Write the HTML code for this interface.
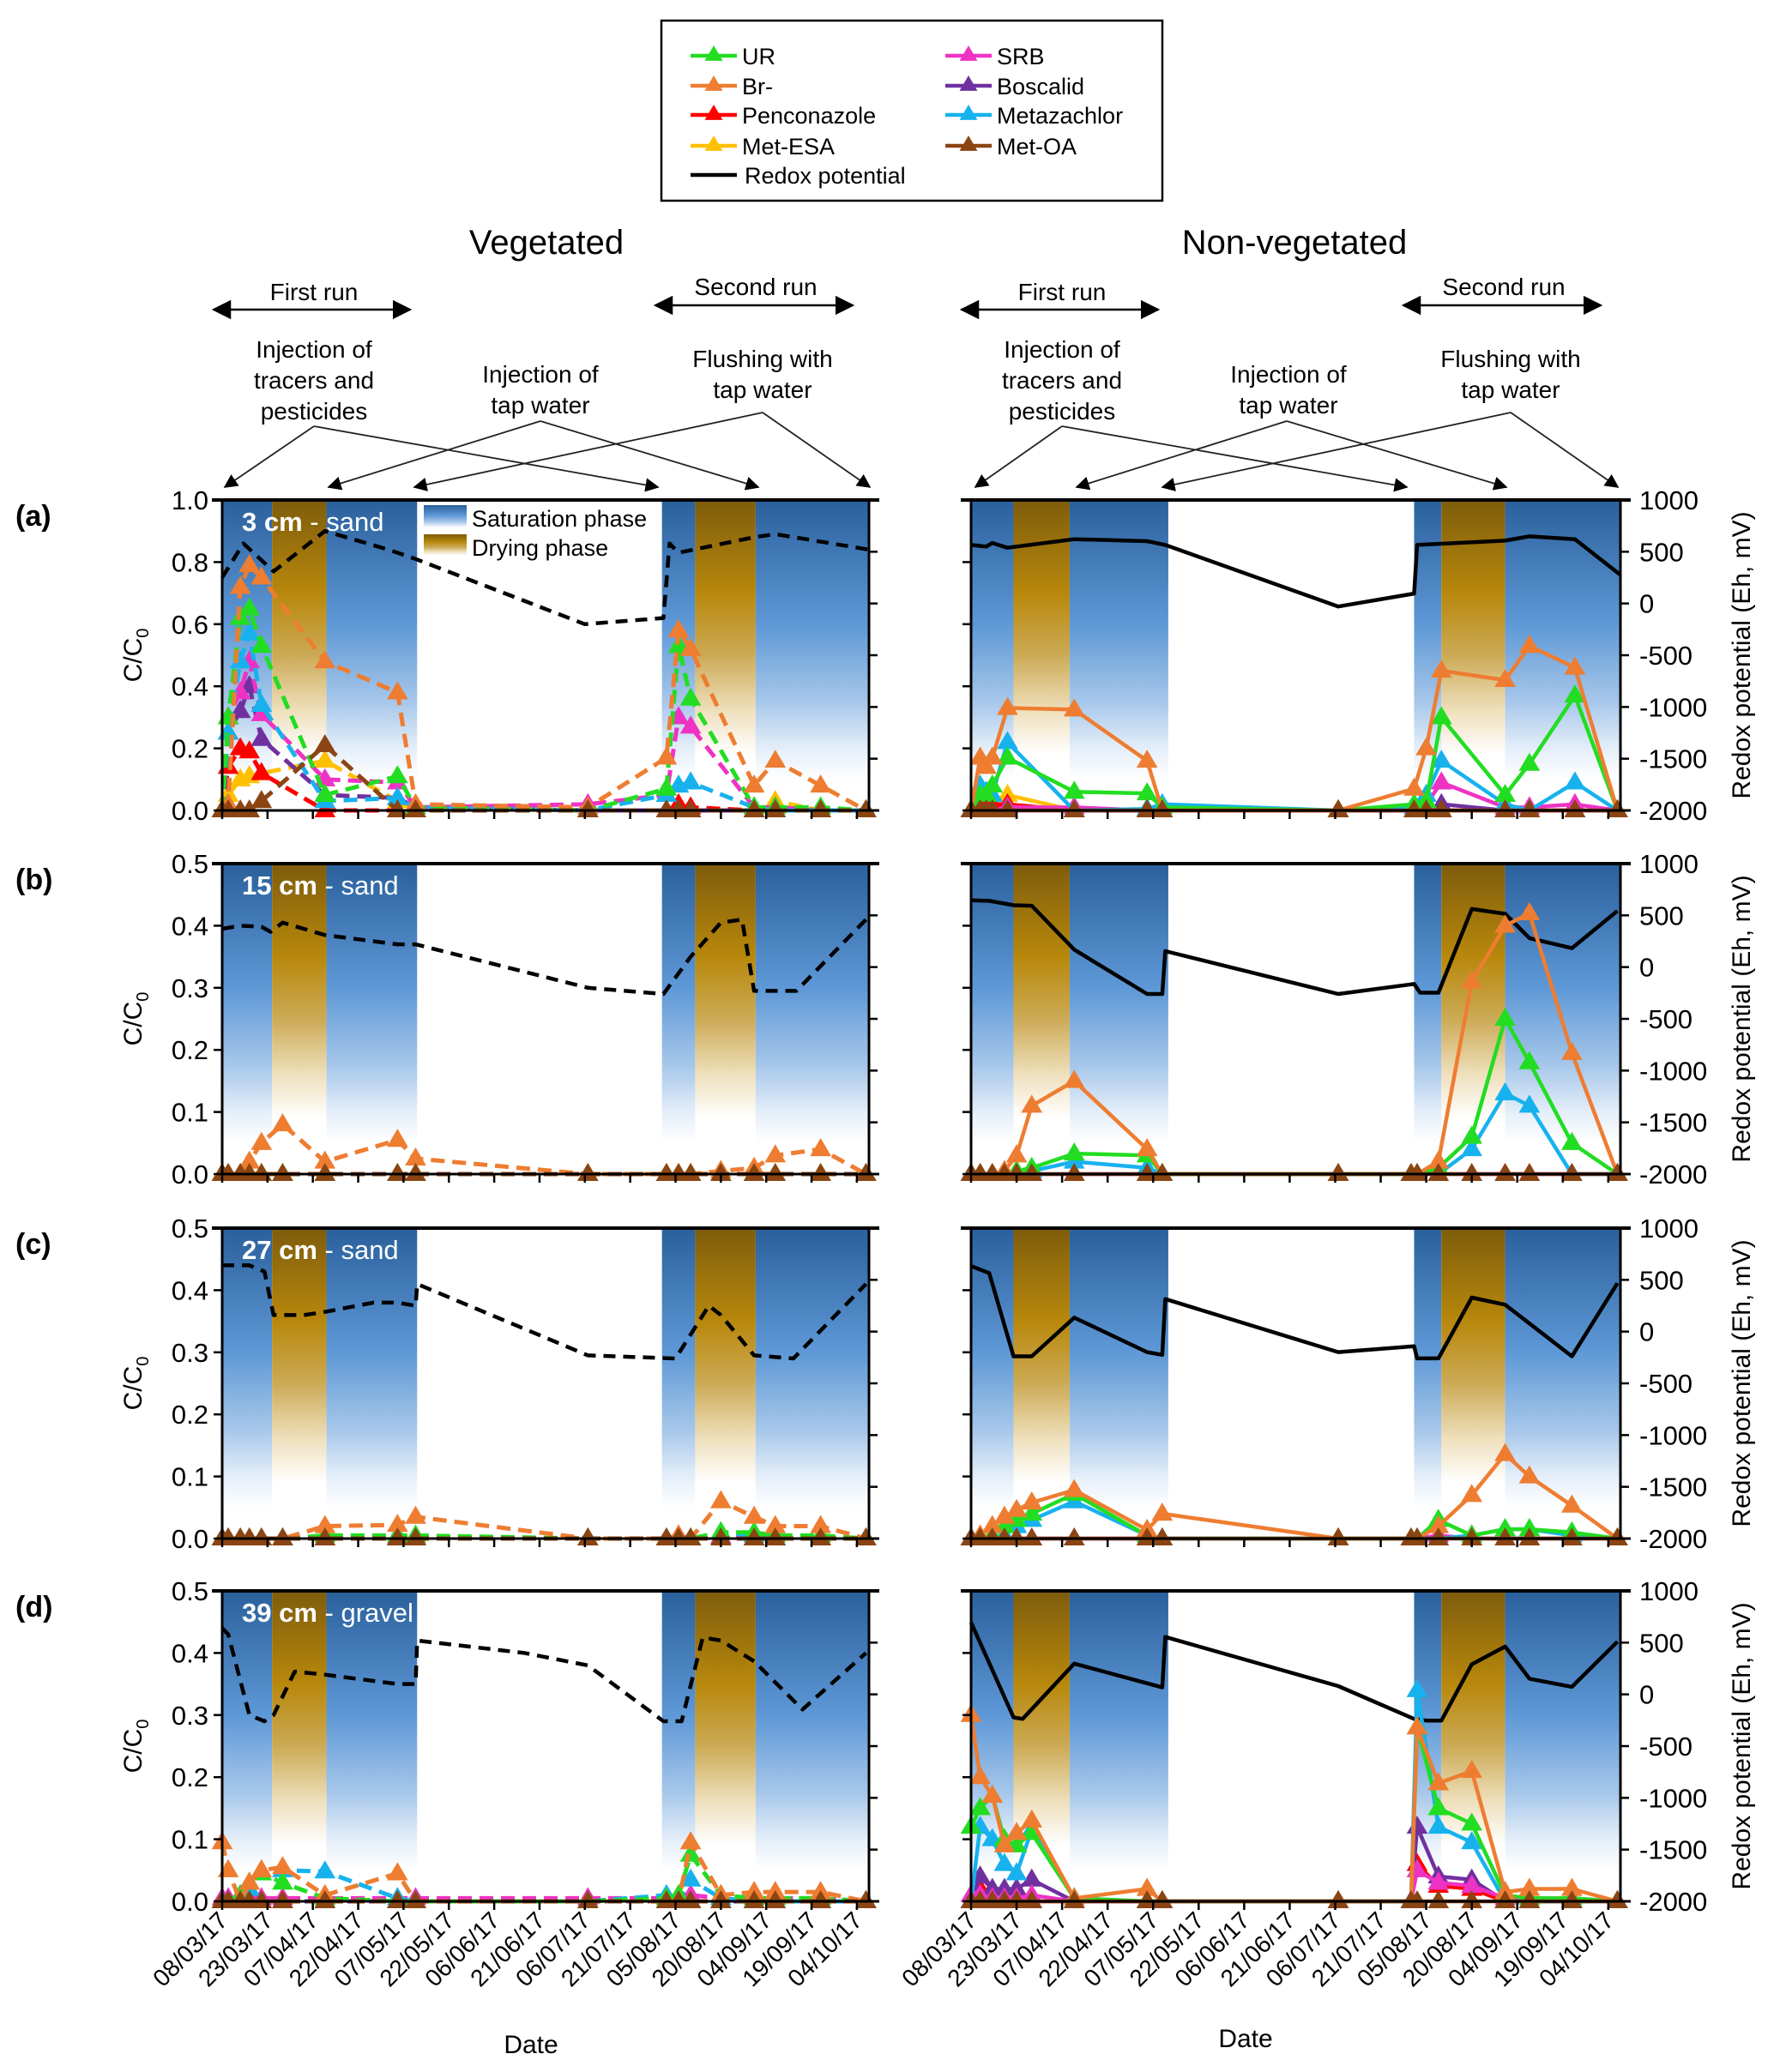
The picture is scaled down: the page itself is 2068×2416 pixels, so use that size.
<!DOCTYPE html>
<html><head><meta charset="utf-8"><style>
html,body{margin:0;padding:0;background:#fff;}
svg{display:block;font-family:"Liberation Sans",Arial,sans-serif;}
</style></head><body>
<svg id="chart" xmlns="http://www.w3.org/2000/svg" width="2068" height="2416" viewBox="0 0 2068 2416">
<defs>
<linearGradient id="gSat" x1="0" y1="0" x2="0" y2="1">
<stop offset="0" stop-color="#2a609c"/><stop offset="0.4" stop-color="#5e98d6"/><stop offset="0.65" stop-color="#a6c7ea"/><stop offset="0.8" stop-color="#e4eef9"/><stop offset="0.9" stop-color="#ffffff"/></linearGradient>
<linearGradient id="gDry" x1="0" y1="0" x2="0" y2="1">
<stop offset="0" stop-color="#7e5c0c"/><stop offset="0.3" stop-color="#b8880c"/><stop offset="0.5" stop-color="#ccaa55"/><stop offset="0.68" stop-color="#efe0bd"/><stop offset="0.82" stop-color="#ffffff"/></linearGradient>
<marker id="ah" viewBox="0 0 10 10" refX="9" refY="5" markerWidth="9" markerHeight="9" orient="auto-start-reverse"><path d="M0,0 L10,5 L0,10 z" fill="#000"/></marker>
</defs>
<g id="root"></g>
</svg>
<script>
// ---------- data ----------
const dateTicks = ["08/03/17","23/03/17","07/04/17","22/04/17","07/05/17","22/05/17","06/06/17","21/06/17","06/07/17","21/07/17","05/08/17","20/08/17","04/09/17","19/09/17","04/10/17"];
const seriesNames = ["UR","Br-","Penconazole","Met-ESA","SRB","Boscalid","Metazachlor","Met-OA"];
const seriesColors = ["#22dd22","#ee7d31","#ff0000","#ffc000","#ee33c4","#7030a0","#17b2ee","#8b4513"];
const drawOrder = ["Met-ESA","Penconazole","Boscalid","SRB","Metazachlor","UR","Br-","Met-OA"];
const daysL = [0,2,6,9,13,20,34,58,64,121,147,151,155,165,176,183,198,213];
const daysRa = [0,3,5,7,12,20,34,58,63,121,146,150,155,165,176,184,199,213];
const daysR = [0,3,7,11,15,20,34,58,63,121,145,147,154,165,176,184,198,213];
const bandsL = [["sat",0,16.5],["dry",16.5,34.5],["sat",34.5,64.5],["sat",145.5,156.5],["dry",156.5,176.5],["sat",176.5,214]];
const bandsR = [["sat",0,14],["dry",14,32.5],["sat",32.5,65],["sat",146,155],["dry",155,176],["sat",176,214]];
// panel a - vegetated
const aL_UR   = [0,0.30,0.62,0.65,0.53,null,0.05,0.11,0.01,0,0.07,0.53,0.36,null,0.01,0.01,0.01,0];
const aL_Br   = [0,0.02,0.72,0.79,0.75,null,0.48,0.38,0.02,0.01,0.17,0.58,0.52,null,0.08,0.16,0.08,0];
const aL_Pen  = [0,0.14,0.20,0.19,0.12,null,0,0,0,0,0,0.02,0.01,null,0,0,0,0];
const aL_ESA  = [0,0.05,0.10,0.11,0.12,null,0.16,0.03,0.01,0,0,0,0,null,0,0.03,0,0];
const aL_SRB  = [0,0.30,0.38,0.48,0.31,null,0.10,0.09,0.01,0.02,0.05,0.30,0.27,null,0.01,0.01,0,0];
const aL_Bos  = [0,0.25,0.32,0.40,0.23,null,0.05,0.04,0.01,0,0,0,0,null,0,0.01,0,0];
const aL_Meta = [0,0.25,0.48,0.57,0.34,null,0.03,0.04,0.01,0,0.05,0.08,0.09,null,0.01,0,0,0];
const aL_OA   = [0,0,0,0,0.03,null,0.21,0,0,0,0,0,0,null,0,0,0,0];
const aL_redoxDays = [0,7,17,34,55,64,120,146,148,151,176,183,214];
const aL_redox = [250,580,310,700,520,430,-200,-140,580,490,640,670,520];
const aR_UR   = [0,0.05,0.05,0.08,0.17,null,0.06,0.055,0.01,0,0.02,0.03,0.30,null,0.05,0.15,0.37,0];
const aR_Br   = [0,0.17,0.14,0.17,0.33,null,0.325,0.16,0,0,0.07,0.20,0.45,null,0.42,0.53,0.46,0];
const aR_Pen  = [0,0.02,0.03,0.02,0.02,null,0,0,0,0,0,0,0,null,0,0,0,0];
const aR_ESA  = [0,0.02,0.02,0.03,0.05,null,0,0,0,0,0,0,0,null,0,0,0,0];
const aR_SRB  = [0,0,0,0,0.01,null,0.01,0,0,0,0,0.02,0.09,null,0.01,0.01,0.02,0];
const aR_Bos  = [0,0,0,0,0,null,0,0,0,0,0,0,0.02,null,0,0,0,0];
const aR_Meta = [0,0.08,0.06,0.05,0.22,null,0,0.005,0.02,0,0.01,0.05,0.16,null,0.02,0,0.09,0];
const aR_OA   = [0,0,0,0,0,null,0,0,0,0,0,0,0,null,0,0,0,0];
const aR_redoxDays = [0,5,7,12,34,58,64,121,146,147,176,184,199,214];
const aR_redox = [566,550,585,538,621,602,566,-29,96,566,607,649,621,276];
// panel b
const bL_Br   = [0,0,0,0.02,0.05,0.08,0.02,0.055,0.025,0,0,0,0,0.005,0.01,0.03,0.04,0];
const bL_zero = [0,0,0,0,0,0,0,0,0,0,0,0,0,0,0,0,0,0];
const bL_redoxDays = [0,6,13,16,20,34,58,64,121,146,155,165,172,176,190,213];
const bL_redox = [370,400,390,340,430,310,220,220,-200,-260,100,430,460,-230,-230,460];
const bR_UR   = [0,0,0,0,0.005,0.01,0.033,0.03,0,0,0,0,0.01,0.06,0.25,0.18,0.05,0];
const bR_Br   = [0,0,0,0.005,0.03,0.11,0.15,0.04,0,0,0,0,0.02,0.31,0.40,0.42,0.195,0];
const bR_Meta = [0,0,0,0,0,0.005,0.02,0.01,0,0,0,0,0,0.04,0.13,0.11,0,0];
const bR_zero = [0,0,0,0,0,0,0,0,0,0,0,0,0,0,0,0,0,0];
const bR_redoxDays = [0,6,14,20,34,58,63,64,121,146,148,154,165,176,184,198,213];
const bR_redox = [645,640,598,593,169,-260,-260,155,-260,-163,-247,-247,562,515,280,183,543];
// panel c
const cL_UR   = [0,0,0,0,0,0,0.005,0.005,0.005,0,0,0,0,0.01,0.01,0.005,0.005,0];
const cL_Br   = [0,0,0,0,0,0,0.02,0.022,0.035,0,0,0.005,0,0.06,0.035,0.02,0.02,0];
const cL_SRB  = [0,0,0,0,0,0,0,0.002,0.002,0,0,0.005,0,0.003,0,0,0,0];
const cL_Meta = [0,0,0,0,0,0,0,0,0,0,0,0,0,0.01,0.005,0,0,0];
const cL_redoxDays = [0,9,14,17,27,34,50,58,64,64.5,121,150,161,165,176,189,213];
const cL_redox = [640,640,580,160,160,190,280,280,250,460,-230,-260,250,160,-230,-260,460];
const cR_UR   = [0,0,0.005,0.02,0.03,0.04,0.072,0.005,0,0,0,0,0.03,0.005,0.015,0.015,0.01,0];
const cR_Br   = [0,0.005,0.02,0.035,0.046,0.058,0.078,0.014,0.04,0,0,0,0.02,0.07,0.136,0.10,0.053,0];
const cR_SRB  = [0,0,0,0,0,0,0,0,0,0,0,0,0.005,0,0,0,0,0];
const cR_Meta = [0,0,0,0.005,0.02,0.03,0.06,0.005,0,0,0,0,0,0.005,0.015,0.015,0.005,0];
const cR_redoxDays = [0,6,14,20,34,58,63,64,121,146,147,154,165,176,198,213];
const cR_redox = [634,565,-239,-239,135,-198,-225,315,-198,-142,-259,-259,329,260,-239,468];
// panel d
const dL_UR   = [0,0,0.01,0.03,0.045,0.03,0.005,0,0,0,0.005,0.01,0.075,0.01,0.005,0.005,0.005,0];
const dL_Br   = [0.095,0.05,0,0.03,0.05,0.055,0.01,0.045,0,0,0,0,0.095,0.01,0.015,0.015,0.015,0];
const dL_SRB  = [0.005,0.005,0.005,0.005,0.005,0.005,0.005,0.005,0.005,0.005,0.005,0.005,0.01,0.005,0.005,0.005,0.005,0];
const dL_Bos  = [0,0,0,0.01,0,0,0,0,0,0,0,0,0,0,0,0,0,0];
const dL_Meta = [0,0,0.01,0.02,0.045,0.05,0.048,0.005,0,0,0.01,0,0.035,0.005,0,0,0,0];
const dL_redoxDays = [0,2,9,14,17,24,34,58,64,64.5,100,121,146,152,159,165,176,192,213];
const dL_redox = [640,580,-200,-260,-200,220,190,100,100,520,400,280,-260,-260,550,520,320,-146,400];
const dR_UR   = [0.12,0.15,0.17,0.10,0.09,0.11,0.005,0,0,0,0,0.28,0.15,0.125,0.01,0.005,0.005,0];
const dR_Br   = [0.30,0.20,0.17,0.09,0.11,0.13,0.005,0.02,0,0,0,0.28,0.19,0.21,0.015,0.02,0.02,0];
const dR_Pen  = [0,0.02,0.005,0,0,0,0,0,0,0,0,0.06,0.025,0.02,0,0,0,0];
const dR_SRB  = [0.01,0.01,0.005,0.005,0.005,0.01,0,0,0,0,0,0.05,0.03,0.025,0.005,0.005,0.005,0];
const dR_Bos  = [0,0.04,0.02,0.02,0.02,0.035,0,0,0,0,0,0.12,0.04,0.035,0,0,0,0];
const dR_Meta = [0,0.12,0.10,0.06,0.045,0.115,0.005,0,0,0,0,0.34,0.12,0.095,0,0,0,0];
const dR_redoxDays = [0,14,17,34,63,64,121,146,150,155,165,176,184,198,213];
const dR_redox = [695,-222,-237,297,67,555,80,-237,-253,-253,291,462,151,73,509];

// ---------- layout ----------
const NS = "http://www.w3.org/2000/svg";
const root = document.getElementById("root");
function el(tag, attrs, parent, txt) {
  const e = document.createElementNS(NS, tag);
  for (const k in attrs) e.setAttribute(k, attrs[k]);
  if (txt !== undefined) e.textContent = txt;
  (parent || root).appendChild(e);
  return e;
}
const XL = [259, 1013], XR = [1132, 1889];
const TOPS = [583, 1007, 1432, 1855];
const H = 362;
const DMAX = 214;

function xScale(side) { const r = side === "L" ? XL : XR; return d => r[0] + d / DMAX * (r[1] - r[0]); }
function yScale(top, ymax) { return v => top + H - v / ymax * H; }
function redoxScale(top) { return mv => top + H - (mv + 2000) / 3000 * H; }
function tri(g, x, y, color, r) {
  return el("path", { d: `M${x},${y - r} L${x + r * 0.95},${y + r * 0.62} L${x - r * 0.95},${y + r * 0.62} Z`, fill: color }, g);
}

const panels = [
  { id: "a", top: TOPS[0], ymax: 1.0, step: 0.2, label: "3 cm", mat: " - sand",
    L: { days: daysL, s: { "UR": aL_UR, "Br-": aL_Br, "Penconazole": aL_Pen, "Met-ESA": aL_ESA, "SRB": aL_SRB, "Boscalid": aL_Bos, "Metazachlor": aL_Meta, "Met-OA": aL_OA }, rd: aL_redoxDays, rv: aL_redox },
    R: { days: daysRa, s: { "UR": aR_UR, "Br-": aR_Br, "Penconazole": aR_Pen, "Met-ESA": aR_ESA, "SRB": aR_SRB, "Boscalid": aR_Bos, "Metazachlor": aR_Meta, "Met-OA": aR_OA }, rd: aR_redoxDays, rv: aR_redox } },
  { id: "b", top: TOPS[1], ymax: 0.5, step: 0.1, label: "15 cm", mat: " - sand",
    L: { days: daysL, s: { "UR": bL_zero, "Br-": bL_Br, "Met-OA": bL_zero }, rd: bL_redoxDays, rv: bL_redox },
    R: { days: daysR, s: { "UR": bR_UR, "Br-": bR_Br, "Metazachlor": bR_Meta, "SRB": bR_zero, "Met-OA": bR_zero }, rd: bR_redoxDays, rv: bR_redox } },
  { id: "c", top: TOPS[2], ymax: 0.5, step: 0.1, label: "27 cm", mat: " - sand",
    L: { days: daysL, s: { "UR": cL_UR, "Br-": cL_Br, "SRB": cL_SRB, "Metazachlor": cL_Meta, "Met-OA": bL_zero }, rd: cL_redoxDays, rv: cL_redox },
    R: { days: daysR, s: { "UR": cR_UR, "Br-": cR_Br, "SRB": cR_SRB, "Metazachlor": cR_Meta, "Met-OA": bR_zero }, rd: cR_redoxDays, rv: cR_redox } },
  { id: "d", top: TOPS[3], ymax: 0.5, step: 0.1, label: "39 cm", mat: " - gravel",
    L: { days: daysL, s: { "UR": dL_UR, "Br-": dL_Br, "SRB": dL_SRB, "Boscalid": dL_Bos, "Metazachlor": dL_Meta, "Met-OA": bL_zero }, rd: dL_redoxDays, rv: dL_redox },
    R: { days: daysR, s: { "UR": dR_UR, "Br-": dR_Br, "Penconazole": dR_Pen, "SRB": dR_SRB, "Boscalid": dR_Bos, "Metazachlor": dR_Meta, "Met-OA": bR_zero }, rd: dR_redoxDays, rv: dR_redox } }
];

panels.forEach((p, pi) => {
  ["L", "R"].forEach(side => {
    const g = el("g", {});
    
    
    const xs = xScale(side), ys = yScale(p.top, p.ymax), rs = redoxScale(p.top);
    const xr = side === "L" ? XL : XR;
    const bands = side === "L" ? bandsL : bandsR;
    const bottom = p.top + H;
    bands.forEach(b => {
      const r = el("rect", { x: xs(b[1]), y: p.top, width: xs(b[2]) - xs(b[1]), height: H, fill: b[0] === "sat" ? "url(#gSat)" : "url(#gDry)" }, g);
      
      
    });
    if (p.id === "a" && side === "L") {
      const lg = el("g", {}, g);
      
      
      el("rect", { x: 490, y: 586, width: 280, height: 72, fill: "#fff" }, lg);
      el("rect", { x: 494, y: 589, width: 50, height: 30, fill: "url(#gSat)" }, lg);
      el("rect", { x: 494, y: 623, width: 50, height: 30, fill: "url(#gDry)" }, lg);
      el("text", { x: 550, y: 614, "font-size": 27 }, lg, "Saturation phase");
      el("text", { x: 550, y: 648, "font-size": 27 }, lg, "Drying phase");
    }
    const rpts = p[side].rd.map((d, i) => xs(d).toFixed(1) + "," + rs(p[side].rv[i]).toFixed(1)).join(" ");
    const rl = el("polyline", { points: rpts, fill: "none", stroke: "#000", "stroke-width": 4.5, "stroke-dasharray": side === "L" ? "14 9" : "none", "stroke-linejoin": "round" }, g);
    
    
    const days = p[side].days;
    drawOrder.forEach(name => {
      const vals = p[side].s[name];
      if (!vals) return;
      const col = seriesColors[seriesNames.indexOf(name)];
      const sg = el("g", {}, g);
      
      
      const pts = [];
      vals.forEach((v, i) => { if (v !== null) pts.push(xs(days[i]).toFixed(1) + "," + ys(v).toFixed(1)); });
      el("polyline", { points: pts.join(" "), fill: "none", stroke: col, "stroke-width": side === "L" ? 5 : 4.5, "stroke-dasharray": side === "L" ? "16 9" : "none", "stroke-linejoin": "round" }, sg);
      vals.forEach((v, i) => {
        if (v === null) return;
        const m = tri(sg, xs(days[i]), ys(v), col, 13);
        
        
      });
    });
    const fr = el("g", {}, g);
    
    
    el("line", { x1: xr[0] - 12, y1: p.top, x2: xr[1] + 12, y2: p.top, stroke: "#000", "stroke-width": 4 }, fr);
    el("line", { x1: xr[0], y1: p.top, x2: xr[0], y2: bottom, stroke: "#000", "stroke-width": 3 }, fr);
    el("line", { x1: xr[1], y1: p.top, x2: xr[1], y2: bottom, stroke: "#000", "stroke-width": 3 }, fr);
    el("line", { x1: xr[0], y1: bottom, x2: xr[1] + 12, y2: bottom, stroke: "#000", "stroke-width": 3 }, fr);
    dateTicks.forEach((t, i) => {
      const x = xs(i * 15);
      el("line", { x1: x, y1: bottom, x2: x, y2: bottom + 10, stroke: "#000", "stroke-width": 2.5 }, fr);
    });
    for (let v = 0; v <= p.ymax + 1e-9; v += p.step) {
      const y = ys(v);
      el("line", { x1: xr[0] - 10, y1: y, x2: xr[0], y2: y, stroke: "#000", "stroke-width": 2.5 }, fr);
      if (side === "L") {
        const t = el("text", { x: xr[0] - 16, y: y + 11, "font-size": 31, "text-anchor": "end" }, fr, v.toFixed(1));
        
        
      }
    }
    for (let mv = -2000; mv <= 1000; mv += 500) {
      const y = rs(mv);
      el("line", { x1: xr[1], y1: y, x2: xr[1] + 10, y2: y, stroke: "#000", "stroke-width": 2.5 }, fr);
      if (side === "R") {
        const t = el("text", { x: xr[1] + 22, y: y + 11, "font-size": 31 }, fr, String(mv));
        
        
      }
    }
    if (side === "L") {
      const lab = el("text", { x: 282, y: p.top + 36, "font-size": 31, fill: "#fff" }, g);
      
      
      el("tspan", { "font-weight": "bold" }, lab, p.label);
      el("tspan", {}, lab, p.mat);
      const yt = el("text", { x: 0, y: 0, "font-size": 30, "text-anchor": "middle", transform: `translate(165,${p.top + H / 2}) rotate(-90)` }, g);
      
      
      el("tspan", {}, yt, "C/C");
      el("tspan", { "font-size": 20, dy: 8 }, yt, "0");
      const pl = el("text", { x: 18, y: p.top + 30, "font-size": 34, "font-weight": "bold" }, g, "(" + p.id + ")");
      
      
    } else {
      const rt = el("text", { x: 0, y: 0, "font-size": 30, "text-anchor": "middle", transform: `translate(2040,${p.top + H / 2}) rotate(-90)` }, g, "Redox potential (Eh, mV)");
      
      
    }
    if (pi === 3) {
      dateTicks.forEach((t, i) => {
        const x = xs(i * 15);
        const tl = el("text", { x: 0, y: 0, "font-size": 28, "text-anchor": "end", transform: `translate(${x + 8},${bottom + 24}) rotate(-45)` }, g, t);
        
        
      });
      const xt = el("text", { x: side === "L" ? 619 : 1452, y: side === "L" ? 2394 : 2387, "font-size": 30, "text-anchor": "middle" }, g, "Date");
      
      
    }
  });
});

// ---------- main legend ----------
const leg = el("g", {});


el("rect", { x: 771, y: 24, width: 584, height: 210, fill: "#fff", stroke: "#000", "stroke-width": 2.5 }, leg);
const legRows = [65, 100, 134, 170];
seriesNames.forEach((n, i) => {
  const col = i < 4 ? 0 : 1;
  const row = i % 4;
  const lx = col === 0 ? 805 : 1102;
  const y = legRows[row];
  const e = el("g", {}, leg);
  
  
  el("line", { x1: lx, y1: y, x2: lx + 54, y2: y, stroke: seriesColors[i], "stroke-width": 4.5 }, e);
  tri(e, lx + 27, y - 1, seriesColors[i], 11);
  el("text", { x: lx + 60, y: y + 10, "font-size": 27 }, e, n);
});
const re = el("g", {}, leg);


el("line", { x1: 805, y1: 204, x2: 859, y2: 204, stroke: "#000", "stroke-width": 4.5 }, re);
el("text", { x: 868, y: 214, "font-size": 27 }, re, "Redox potential");

// ---------- headers & annotations ----------
function ann(cx, lines, y0, dy, name) {
  const t = el("text", { "font-size": 28, "text-anchor": "middle" });
  
  
  lines.forEach((l, i) => el("tspan", { x: cx, y: y0 + i * dy }, t, l));
}
[[637, "Vegetated"], [1509, "Non-vegetated"]].forEach(h => {
  const t = el("text", { x: h[0], y: 296, "font-size": 40, "text-anchor": "middle" }, undefined, h[1]);
  
  
});
const offs = [0, 872];
offs.forEach(o => {
  ann(366 + o, ["First run"], 350, 0, 'first-run-label');
  ann(881 + o, ["Second run"], 344, 0, 'second-run-label');
  el("line", { x1: 249 + o, y1: 361, x2: 478 + o, y2: 361, stroke: "#000", "stroke-width": 2.5, "marker-start": "url(#ah)", "marker-end": "url(#ah)" });
  el("line", { x1: 764 + o, y1: 356, x2: 994 + o, y2: 356, stroke: "#000", "stroke-width": 2.5, "marker-start": "url(#ah)", "marker-end": "url(#ah)" });
  ann(366 + o, ["Injection of", "tracers and", "pesticides"], 417, 36, 'injection-tracers-label');
  ann(630 + o, ["Injection of", "tap water"], 446, 36, 'injection-tap-label');
  ann(889 + o, ["Flushing with", "tap water"], 428, 36, 'flushing-label');
});
const arrowsL = [[366, 497, 262], [366, 497, 767], [630, 491, 383], [630, 491, 884], [889, 481, 483], [889, 481, 1014]];
const arrowsR = [[1238, 497, 1137], [1238, 497, 1640], [1500, 491, 1255], [1500, 491, 1756], [1761, 481, 1355], [1761, 481, 1886]];
arrowsL.concat(arrowsR).forEach(a => {
  const l = el("line", { x1: a[0], y1: a[1], x2: a[2], y2: 568, stroke: "#222", "stroke-width": 1.8, "marker-end": "url(#ah)" });
  
  
});
</script>
</body></html>
